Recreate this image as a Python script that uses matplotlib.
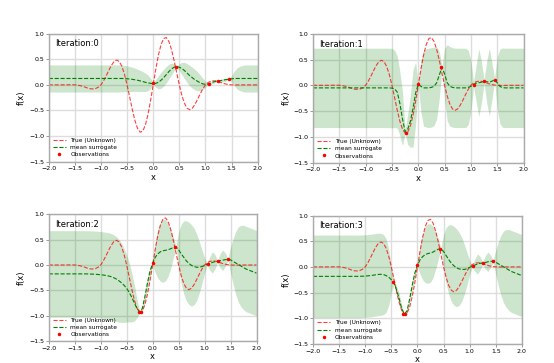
import numpy as np
import matplotlib
matplotlib.use('Agg')
import matplotlib.pyplot as plt

# sample positions shared by every curve
X_GRID = np.linspace(-2.0, 2.0, 81)

# true (unknown) function
TRUE_F = [0.0, 0.0, 0.0, 0.0, 0.0, 0.0, 0.001, 0.001, 0.002, 0.002,
          0.0, -0.005, -0.015, -0.028, -0.046, -0.065, -0.077, -0.079, -0.07, -0.045,
          0.0, 0.079, 0.177, 0.283, 0.382, 0.456, 0.486, 0.458, 0.365, 0.208,
          0.0, -0.239, -0.481, -0.695, -0.851, -0.926, -0.906, -0.787, -0.581, -0.308,
          0.0, 0.308, 0.581, 0.787, 0.906, 0.926, 0.851, 0.695, 0.481, 0.239,
          0.0, -0.208, -0.365, -0.458, -0.486, -0.456, -0.382, -0.283, -0.177, -0.079,
          0.0, 0.045, 0.07, 0.079, 0.077, 0.065, 0.046, 0.028, 0.015, 0.005,
          0.0, -0.002, -0.002, -0.001, -0.001, 0.0, 0.0, 0.0, 0.0, 0.0, 0.0]

# iteration 0
MEAN_0 = ([0.125] * 29 +
          [0.123, 0.12, 0.115, 0.108, 0.1, 0.09, 0.078, 0.065, 0.05, 0.038, 0.03] +
          [0.025, 0.03, 0.05, 0.09, 0.14, 0.2, 0.26, 0.31, 0.345, 0.355,
           0.345, 0.32, 0.28, 0.23, 0.18, 0.14, 0.1, 0.07, 0.04, 0.02,
           0.01, 0.015, 0.035, 0.055, 0.07, 0.077, 0.085, 0.095, 0.105, 0.11, 0.118] +
          [0.125] * 10)
STD_0 = ([0.265] * 28 +
         [0.262, 0.258, 0.252, 0.245, 0.237, 0.228, 0.218, 0.207, 0.195, 0.18, 0.155, 0.1] +
         [0.01, 0.08, 0.13, 0.155, 0.165, 0.16, 0.145, 0.115, 0.07, 0.01,
          0.07, 0.12, 0.16, 0.185, 0.2, 0.205, 0.2, 0.185, 0.155, 0.11,
          0.06, 0.012, 0.02, 0.03, 0.02, 0.01, 0.025, 0.035, 0.025, 0.01,
          0.06, 0.14, 0.2, 0.235, 0.25] +
         [0.265] * 6)

# iteration 1
MEAN_1 = ([-0.05] * 30 +
          [-0.055, -0.07, -0.13, -0.35, -0.65, -0.9, -0.85, -0.7, -0.45, -0.15] +
          [0.02, -0.02, -0.05, -0.05, -0.05, -0.04, -0.02, 0.05, 0.2, 0.35,
           0.22, 0.05, -0.02, -0.04, -0.05, -0.05, -0.05, -0.05, -0.05, -0.04,
           -0.02, 0.02, 0.04, 0.05, 0.06, 0.075, 0.07, 0.06, 0.08, 0.11,
           0.05, -0.02, -0.045] +
          [-0.05] * 8)
STD_1 = ([0.77] * 30 +
         [0.77, 0.75, 0.7, 0.62, 0.52, 0.04, 0.3, 0.5, 0.75, 0.6] +
         [0.02, 0.5, 0.74, 0.76, 0.77, 0.77, 0.76, 0.7, 0.45, 0.03,
          0.5, 0.74, 0.77, 0.77, 0.77, 0.77, 0.77, 0.77, 0.77, 0.72,
          0.5, 0.05, 0.35, 0.66, 0.4, 0.03, 0.4, 0.66, 0.35, 0.03,
          0.5, 0.72, 0.77] +
         [0.77] * 8)

# iteration 2
MEAN_2 = ([-0.175] * 15 +
          [-0.176, -0.178, -0.18, -0.183, -0.187, -0.192, -0.198, -0.206, -0.216, -0.23,
           -0.25, -0.275, -0.31, -0.35, -0.4, -0.46, -0.54, -0.64, -0.75, -0.86,
           -0.92, -0.86, -0.63, -0.36, -0.12] +
          [0.03, 0.15, 0.22, 0.26, 0.28, 0.29, 0.3, 0.32, 0.345, 0.355,
           0.3, 0.22, 0.15, 0.08, 0.03, -0.01, -0.03, -0.045, -0.045, -0.03,
           -0.01, 0.012, 0.03, 0.05, 0.065, 0.075, 0.085, 0.095, 0.105, 0.11,
           0.1, 0.07, 0.04, 0.01, -0.02, -0.05, -0.08, -0.1, -0.12, -0.14, -0.16])
STD_2 = ([0.85] * 24 +
         [0.85, 0.845, 0.835, 0.815, 0.78, 0.73, 0.66, 0.58, 0.48, 0.35,
          0.18, 0.02, 0.06, 0.1, 0.12, 0.1] +
         [0.02, 0.3, 0.48, 0.58, 0.62, 0.6, 0.52, 0.38, 0.2, 0.02,
          0.35, 0.58, 0.72, 0.79, 0.81, 0.8, 0.75, 0.65, 0.5, 0.33,
          0.15, 0.02, 0.13, 0.21, 0.14, 0.02, 0.14, 0.2, 0.13, 0.02,
          0.25, 0.45, 0.62, 0.74, 0.8, 0.83, 0.84, 0.84, 0.84, 0.84, 0.84])

# iteration 3
MEAN_3 = ([-0.185] * 17 +
          [-0.185, -0.183, -0.182, -0.18, -0.175, -0.17, -0.163, -0.155, -0.148, -0.145,
           -0.15, -0.17, -0.2, -0.25, -0.31, -0.45, -0.62, -0.82, -0.92, -0.86,
           -0.63, -0.36, -0.12] +
          [0.03, 0.14, 0.2, 0.24, 0.26, 0.27, 0.29, 0.32, 0.345, 0.355,
           0.3, 0.22, 0.14, 0.07, 0.02, -0.02, -0.04, -0.05, -0.05, -0.035,
           -0.01, 0.012, 0.035, 0.055, 0.07, 0.075, 0.085, 0.1, 0.108, 0.11,
           0.09, 0.06, 0.03, 0.0, -0.03, -0.06, -0.09, -0.11, -0.13, -0.15, -0.17])
STD_3 = ([0.805] * 26 +
         [0.8, 0.78, 0.72, 0.55, 0.25, 0.04, 0.08, 0.1, 0.07, 0.02,
          0.05, 0.09, 0.1, 0.08] +
         [0.02, 0.28, 0.45, 0.55, 0.58, 0.57, 0.5, 0.36, 0.19, 0.02,
          0.33, 0.55, 0.68, 0.75, 0.77, 0.76, 0.71, 0.62, 0.48, 0.31,
          0.14, 0.02, 0.12, 0.2, 0.13, 0.02, 0.13, 0.19, 0.12, 0.02,
          0.24, 0.43, 0.59, 0.7, 0.76, 0.79, 0.8, 0.8, 0.8, 0.8, 0.8])

OBS_X_0 = [0.0, 0.44, 1.06, 1.25, 1.45]
OBS_Y_0 = [0.03, 0.35, 0.01, 0.075, 0.11]
OBS_X_1 = OBS_X_0 + [-0.23]
OBS_Y_1 = OBS_Y_0 + [-0.92]
OBS_X_2 = OBS_X_1 + [-0.27]
OBS_Y_2 = OBS_Y_1 + [-0.92]
OBS_X_3 = OBS_X_2 + [-0.47]
OBS_Y_3 = OBS_Y_2 + [-0.29]

PANELS = [
    (MEAN_0, STD_0, OBS_X_0, OBS_Y_0),
    (MEAN_1, STD_1, OBS_X_1, OBS_Y_1),
    (MEAN_2, STD_2, OBS_X_2, OBS_Y_2),
    (MEAN_3, STD_3, OBS_X_3, OBS_Y_3),
]

AXES_POS = [
    [0.088, 0.555, 0.377, 0.352],
    [0.565, 0.552, 0.380, 0.355],
    [0.088, 0.060, 0.375, 0.350],
    [0.565, 0.053, 0.377, 0.353],
]


def draw_panel(ax, it, mean, std, obs_x, obs_y):
    mean = np.asarray(mean)
    std = np.asarray(std)
    ax.plot(X_GRID, TRUE_F, 'r--', lw=0.8, alpha=0.75, label='True (Unknown)')
    ax.plot(X_GRID, mean, 'g--', lw=0.8, label='mean surrogate')
    ax.fill_between(X_GRID, mean - std, mean + std, color='g', alpha=0.2, lw=0)
    ax.plot(obs_x, obs_y, 'r.', ms=3, label='Observations')

    ax.set_xlim(-2, 2)
    ax.set_ylim(-1.5, 1.0)
    ax.set_xticks(np.arange(-2.0, 2.01, 0.5))
    ax.set_yticks(np.arange(-1.5, 1.01, 0.5))
    ax.grid(color='#dddddd', lw=1.0)
    ax.set_axisbelow(True)
    for sp in ax.spines.values():
        sp.set_color('#aaaaaa')
        sp.set_linewidth(1.0)
    ax.tick_params(labelsize=4.5, length=2, width=0.6, color='#888888', pad=1.5)
    ax.set_xlabel('x', fontsize=6, labelpad=1)
    ax.set_ylabel('f(x)', fontsize=6, labelpad=2)
    ax.text(0.03, 0.92, f'Iteration:{it}', transform=ax.transAxes,
            fontsize=6, va='center', ha='left')
    ax.legend(loc='lower left', fontsize=4.2, frameon=False,
              handlelength=2.2, borderaxespad=0.3, labelspacing=0.35)


fig = plt.figure(figsize=(5.54, 3.63), dpi=100)
for it, (pos, (mean, std, ox, oy)) in enumerate(zip(AXES_POS, PANELS)):
    ax = fig.add_axes(pos)
    draw_panel(ax, it, mean, std, ox, oy)

fig.savefig('out.png', dpi=100)
